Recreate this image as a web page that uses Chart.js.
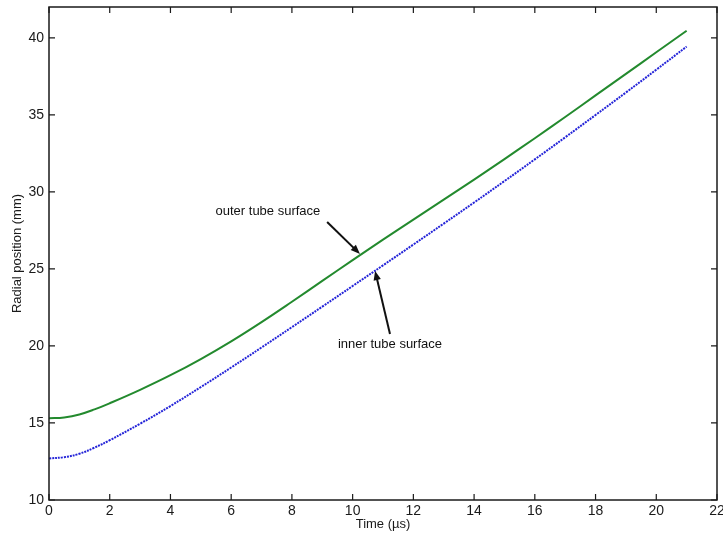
<!DOCTYPE html>
<html>
<head>
<meta charset="utf-8">
<script src="https://cdn.jsdelivr.net/npm/chart.js@4.4.0/dist/chart.umd.min.js"></script>
<style>
    html, body { margin: 0; padding: 0; background: #ffffff; }
    #wrap { width: 723px; height: 535px; position: relative; }
</style>
</head>
<body>
<div id="wrap"><canvas id="radiusChart"></canvas></div>
<script>
// time samples (µs) and radial positions of both tube surfaces (mm)
const timeUs = [0, 0.5, 1, 1.5, 2, 3, 4, 5, 6, 7, 8, 9, 10, 11, 12, 13, 14, 15, 16, 17, 18, 19, 20, 21];
const outerSurface = [15.3, 15.36, 15.55, 15.88, 16.28, 17.15, 18.1, 19.15, 20.3, 21.55, 22.87, 24.22, 25.57, 26.9, 28.2, 29.5, 30.8, 32.13, 33.48, 34.86, 36.26, 37.66, 39.06, 40.46];
const innerSurface = [12.7, 12.78, 13.0, 13.4, 13.88, 14.95, 16.1, 17.33, 18.6, 19.9, 21.22, 22.55, 23.89, 25.23, 26.58, 27.94, 29.31, 30.7, 32.11, 33.54, 34.99, 36.45, 37.93, 39.43];

const xTicks = [0, 2, 4, 6, 8, 10, 12, 14, 16, 18, 20, 22];
const yTicks = [10, 15, 20, 25, 30, 35, 40];

// text callouts with arrows, in data units
const callouts = [
    { text: 'outer tube surface', tx: 7.21, ty: 28.7, from: [9.16, 28.05], to: [10.24, 25.97] },
    { text: 'inner tube surface', tx: 11.23, ty: 20.13, from: [11.23, 20.78], to: [10.74, 24.87] }
];

function toPoints(xs, ys) {
    return xs.map((x, i) => ({ x: x, y: ys[i] }));
}

const FONT = '"Liberation Sans", Arial, sans-serif';

// box around the plot plus inward tick marks on all four sides
const boxTicks = {
    id: 'boxTicks',
    afterDraw(chart) {
        const ctx = chart.ctx;
        const a = chart.chartArea;
        const xs = chart.scales.x;
        const ys = chart.scales.y;
        ctx.save();
        ctx.strokeStyle = '#1a1a1a';
        ctx.lineWidth = 1.5;
        ctx.strokeRect(a.left, a.top, a.right - a.left, a.bottom - a.top);
        ctx.lineWidth = 1.2;
        ctx.beginPath();
        xTicks.forEach(v => {
            const px = xs.getPixelForValue(v);
            ctx.moveTo(px, a.bottom); ctx.lineTo(px, a.bottom - 6);
            ctx.moveTo(px, a.top); ctx.lineTo(px, a.top + 6);
        });
        yTicks.forEach(v => {
            const py = ys.getPixelForValue(v);
            ctx.moveTo(a.left, py); ctx.lineTo(a.left + 6, py);
            ctx.moveTo(a.right, py); ctx.lineTo(a.right - 6, py);
        });
        ctx.stroke();

        // callouts
        ctx.fillStyle = '#111';
        ctx.strokeStyle = '#111';
        ctx.font = '13px ' + FONT;
        ctx.textAlign = 'center';
        ctx.textBaseline = 'middle';
        callouts.forEach(c => {
            ctx.fillText(c.text, xs.getPixelForValue(c.tx), ys.getPixelForValue(c.ty));
            const x1 = xs.getPixelForValue(c.from[0]), y1 = ys.getPixelForValue(c.from[1]);
            const x2 = xs.getPixelForValue(c.to[0]), y2 = ys.getPixelForValue(c.to[1]);
            const ang = Math.atan2(y2 - y1, x2 - x1);
            const head = 10;
            ctx.lineWidth = 2;
            ctx.beginPath();
            ctx.moveTo(x1, y1);
            ctx.lineTo(x2 - Math.cos(ang) * head * 0.8, y2 - Math.sin(ang) * head * 0.8);
            ctx.stroke();
            ctx.beginPath();
            ctx.moveTo(x2, y2);
            ctx.lineTo(x2 - head * Math.cos(ang - 0.38), y2 - head * Math.sin(ang - 0.38));
            ctx.lineTo(x2 - head * Math.cos(ang + 0.38), y2 - head * Math.sin(ang + 0.38));
            ctx.closePath();
            ctx.fill();
        });
        ctx.restore();
    }
};

new Chart(document.getElementById('radiusChart'), {
    type: 'line',
    data: {
        datasets: [
            {
                label: 'outer tube surface',
                data: toPoints(timeUs, outerSurface),
                borderColor: '#238a2e',
                borderWidth: 2,
                pointRadius: 0,
                tension: 0.4
            },
            {
                label: 'inner tube surface',
                data: toPoints(timeUs, innerSurface),
                borderColor: '#2424d8',
                borderWidth: 2,
                borderDash: [2, 1],
                pointRadius: 0,
                tension: 0.4
            }
        ]
    },
    plugins: [boxTicks],
    options: {
        responsive: true,
        maintainAspectRatio: false,
        animation: false,
        layout: { padding: { top: 7, right: 6, left: 0, bottom: 0 } },
        plugins: {
            legend: { display: false },
            tooltip: { enabled: false }
        },
        scales: {
            x: {
                type: 'linear',
                min: 0,
                max: 22,
                afterBuildTicks: scale => { scale.ticks = xTicks.map(v => ({ value: v })); },
                afterFit: scale => {
                    scale.height = 35;
                    scale.paddingLeft = 0;
                    scale.paddingRight = 0;
                },
                grid: { display: false, drawTicks: false },
                border: { display: false },
                ticks: {
                    color: '#1a1a1a',
                    font: { family: FONT, size: 14 },
                    padding: 3,
                    maxRotation: 0
                },
                title: {
                    display: true,
                    text: 'Time (µs)',
                    color: '#1a1a1a',
                    font: { family: FONT, size: 13 },
                    padding: { top: 0, bottom: 3 }
                }
            },
            y: {
                type: 'linear',
                min: 10,
                max: 42,
                afterBuildTicks: scale => { scale.ticks = yTicks.map(v => ({ value: v })); },
                afterFit: scale => {
                    scale.width = 49;
                    scale.paddingTop = 0;
                    scale.paddingBottom = 0;
                },
                grid: { display: false, drawTicks: false },
                border: { display: false },
                ticks: {
                    color: '#1a1a1a',
                    font: { family: FONT, size: 14 },
                    padding: 5
                },
                title: {
                    display: true,
                    text: 'Radial position (mm)',
                    color: '#1a1a1a',
                    font: { family: FONT, size: 13 },
                    padding: { top: 10, bottom: 0 }
                }
            }
        }
    }
});
</script>
</body>
</html>
